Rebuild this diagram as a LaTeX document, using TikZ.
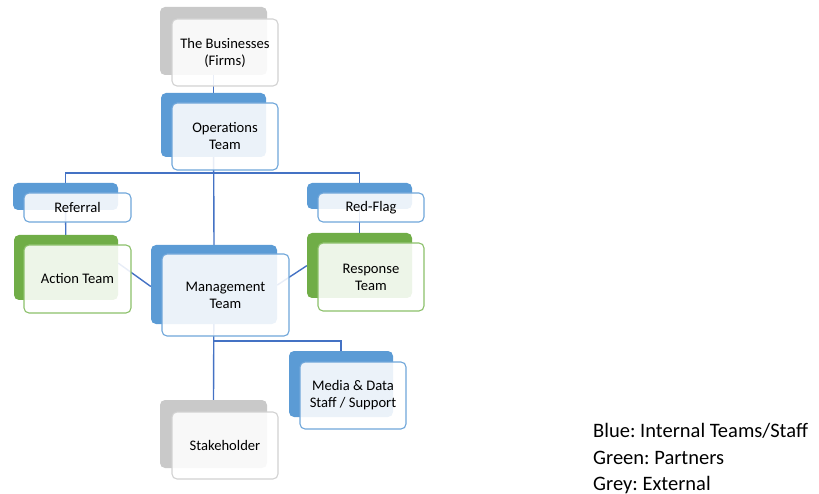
\documentclass[tikz,border=0pt]{standalone}
\usepackage{fontspec}
\setmainfont{Carlito}
\usetikzlibrary{calc}
\definecolor{sblue}{HTML}{5B9BD5}
\definecolor{sgreen}{HTML}{70AD47}
\definecolor{sgrey}{HTML}{C9C9C9}
\definecolor{fblue}{HTML}{6FA6DA}
\definecolor{fgreen}{HTML}{8CC06A}
\definecolor{fgrey}{HTML}{D2D2D2}
\definecolor{conn}{HTML}{4472C4}
\pgfdeclarelayer{bg}
\pgfdeclarelayer{fg}
\pgfsetlayers{bg,main,fg}
\frenchspacing
\begin{document}
\begin{tikzpicture}[x=1pt,y=-1pt,
  back/.style={rounded corners=5pt, inner sep=0pt},
  bb/.style={back, fill=sblue},
  bg/.style={back, fill=sgreen},
  bgr/.style={back, fill=sgrey},
  front/.style={rounded corners=5pt, inner sep=0pt, fill=white, fill opacity=0.88, text opacity=1, line width=1.1pt, font=\fontsize{14.6}{17}\selectfont, align=center, text=black},
  fb/.style={front, draw=fblue},
  fg/.style={front, draw=fgreen},
  fgr/.style={front, draw=fgrey},
  wire/.style={draw=conn, line width=1.4pt},
  legend/.style={font=\fontsize{20.5}{27}\selectfont, anchor=base west, inner sep=0pt, text=black}]
\useasboundingbox (0,0) rectangle (819,494);
% back shapes
\path
 node[bgr, minimum width=107pt, minimum height=68pt] (busb) at (213.5,41) {}
 node[bb, minimum width=105pt, minimum height=64pt] (opb) at (213.5,125) {}
 node[bb, minimum width=105pt, minimum height=27pt] (refb) at (65.5,196.5) {}
 node[bg, minimum width=104pt, minimum height=65pt] (actb) at (66,267.5) {}
 node[bb, minimum width=126pt, minimum height=79pt] (mgb) at (214,284.5) {}
 node[bb, minimum width=105pt, minimum height=26pt] (rfb) at (359.5,196) {}
 node[bg, minimum width=105pt, minimum height=65pt] (rsb) at (359.5,265.5) {}
 node[bb, minimum width=104pt, minimum height=66pt] (mdb) at (341,384) {}
 node[bgr, minimum width=107pt, minimum height=68pt] (stb) at (213.5,434) {};
% connectors behind everything
\coordinate (hbar) at (0,173);
\coordinate (hbar2) at (0,341);
\begin{pgfonlayer}{bg}
\draw[wire] (busb) -- (opb);
\draw[wire] (opb) -- (mgb.north);
\draw[wire] (refb.north) |- (hbar -| opb) -| (rfb.north);
\draw[wire] (refb) -- (actb);
\draw[wire] (rfb) -- (rsb);
\draw[wire] ($(actb.east)+(0,-4.4)$) -- ($(mgb.west)+(0,2)$);
\draw[wire] ($(mgb.east)+(0,0.6)$) -- ($(rsb.west)+(0,0.2)$);
\draw[wire] (mgb) -- (stb.north);
\draw[wire] (hbar2 -| mgb) -| (mdb.north);
\end{pgfonlayer}
% front shapes with text
\begin{pgfonlayer}{fg}
\path
 node[fgr, minimum width=106pt, minimum height=67pt] (busf) at (225,52.5) {The Businesses\\(Firms)}
 node[fb, minimum width=106pt, minimum height=67pt] (opf) at (225,136.5) {Operations\\Team}
 node[fb, minimum width=107pt, minimum height=29pt] (reff) at (77.5,207.5) {Referral}
 node[fg, minimum width=107pt, minimum height=68pt] (actf) at (77.5,279) {Action Team}
 node[fb, minimum width=127pt, minimum height=82pt] (mgf) at (225.5,295) {Management\\Team}
 node[fb, minimum width=106pt, minimum height=29pt] (rff) at (371,207.5) {Red-Flag}
 node[fg, minimum width=106pt, minimum height=68pt] (rsf) at (371,277) {Response\\Team}
 node[fb, minimum width=106pt, minimum height=67pt] (mdf) at (353,395.5) {Media \& Data\\Staff / Support}
 node[fgr, minimum width=106pt, minimum height=67pt] (stf) at (225,445.5) {Stakeholder};
\end{pgfonlayer}
% legend
\node[legend] (leg1) at (593,437) {Blue: Internal Teams/Staff};
\node[legend] (leg2) at (593,464) {Green: Partners};
\node[legend] (leg3) at (593,490) {Grey: External};
\end{tikzpicture}
\end{document}
